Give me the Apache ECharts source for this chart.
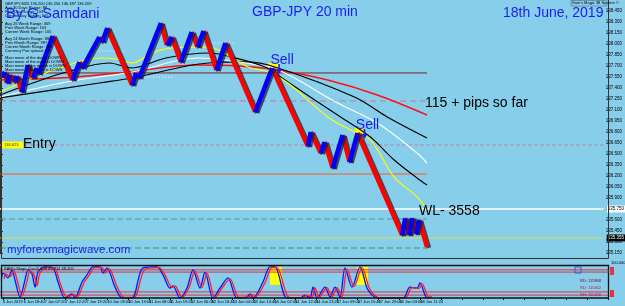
<!DOCTYPE html>
<html><head><meta charset="utf-8">
<script src="https://cdn.jsdelivr.net/npm/echarts@6/dist/echarts.min.js"></script>
<style>html,body{margin:0;padding:0;background:#87CEEB;}#c{width:625px;height:306px;}</style>
</head><body><div id="c"></div>
<script>
// ---- price path (renko turning points): bar position, price
const priceX = [2,5,7,10,15,17,22,28,33,37,39,53,73,80,83,100,103,108,133,137,140,162,168,173,182,193,199,205,218,227,257,274,310,313,323,327,335,345,352,360,405,408,412,415,419,422,430];
const priceY = [137.550,137.618,137.468,137.577,137.482,137.564,137.345,137.714,137.536,137.673,137.591,138.109,137.509,137.755,137.673,138.095,138.027,138.218,137.441,137.605,137.536,138.286,137.986,138.095,137.755,138.164,137.959,138.177,137.645,138.014,137.073,137.673,136.609,136.800,136.514,136.664,136.309,136.759,136.391,136.786,135.395,135.627,135.395,135.627,135.409,135.600,135.232];

// ---- moving averages
const maRed = [[0,137.509],[60,137.536],[120,137.605],[200,137.714],[240,137.700],[280,137.645],[330,137.509],[380,137.305],[430,137.032]];
const maBlackSlow = [[0,137.264],[100,137.468],[133,137.536],[210,137.741],[250,137.755],[280,137.673],[357,137.277],[390,137.005],[430,136.718]];
const maWhite = [[0,137.277],[67,137.482],[133,137.618],[200,137.809],[240,137.755],[280,137.645],[340,137.195],[380,136.923],[420,136.514],[430,136.377]];
const maBlackFast = [[0,137.305],[33,137.468],[67,137.618],[110,137.741],[133,137.673],[167,137.809],[210,137.877],[233,137.823],[267,137.686],[287,137.509],[317,137.236],[343,137.005],[373,136.732],[397,136.418],[420,136.173],[430,136.077]];
const maYellow = [[0,137.345],[33,137.536],[60,137.673],[100,137.809],[117,137.795],[133,137.741],[153,137.877],[173,137.945],[210,137.959],[220,137.918],[250,137.686],[270,137.618],[290,137.468],[330,137.005],[353,136.827],[373,136.691],[397,136.186],[420,135.914],[430,135.736]];

// ---- horizontal levels
const levelPrice = [137.605, 137.223, 136.623, 136.227, 135.614, 135.218];
const levelEnd   = [430, 430, 608, 430, 430, 430];
const dottedPrice = [137.905, 137.550, 138.014];
const dottedFrom  = [97, 133, 210];
const dottedTo    = [125, 175, 237];
const whiteLevel = 135.750;
const limeLevel = 135.355;
const entryPrice = 136.623;

// ---- signals
const sellX = [274, 360];
const sellPrice = [137.673, 136.786];
const signalBoxX = [[270, 282], [357, 366]];
const signalBoxP = [[137.741, 137.618], [136.855, 136.691]];

// ---- oscillator
const oscBlue = [[2,66],[3,78],[8,63],[12,88],[15,56],[20,3],[25,56],[28,88],[32,75],[35,34],[38,81],[45,97],[53,94],[58,50],[65,0],[72,13],[75,0],[82,50],[87,72],[93,97],[100,97],[103,78],[107,94],[115,34],[122,0],[132,0],[143,94],[157,97],[163,72],[170,31],[173,38],[180,0],[187,31],[193,88],[200,31],[205,81],[213,0],[220,31],[228,63],[237,0],[247,3],[250,13],[253,0],[263,50],[270,97],[275,97],[287,0],[300,0],[305,9],[310,0],[313,34],[317,0],[325,34],[330,3],[335,34],[340,3],[345,94],[352,34],[360,97],[367,31],[372,9],[378,0],[403,0],[410,34],[417,31],[420,47],[425,9],[427,0],[430,3]];
const oscRed = [[4,60],[6,75],[10,66],[14,85],[17,58],[22,6],[27,52],[30,85],[34,73],[37,38],[40,78],[47,95],[55,92],[60,48],[67,2],[74,11],[77,2],[84,48],[89,70],[95,95],[102,95],[105,78],[109,92],[117,36],[124,2],[134,2],[145,90],[159,95],[165,72],[172,33],[175,38],[182,2],[189,33],[195,85],[202,33],[207,78],[215,2],[222,31],[230,60],[239,2],[249,4],[252,11],[255,2],[265,48],[272,95],[277,95],[289,2],[302,0],[307,8],[312,1],[315,32],[319,2],[327,32],[332,4],[337,32],[342,4],[347,90],[354,36],[362,95],[369,33],[374,10],[380,0],[405,0],[412,32],[419,30],[422,45],[427,10],[429,2],[432,4]];
const oscLevels = [88, 81, 19, 9];
const oscBoxX = [[270, 282], [357, 368]];
const oscBoxV = [97, 41];

const timeLabels = ["6 Jun 2019","6 Jun 18:40","7 Jun 07:20","7 Jun 12:20","7 Jun 19:20","10 Jun 09:00","10 Jun 13:00","11 Jun 08:00","11 Jun 19:20","12 Jun 06:00","12 Jun 16:40","13 Jun 04:00","13 Jun 14:40","14 Jun 02:00","14 Jun 12:40","14 Jun 23:20","17 Jun 09:00","17 Jun 15:40","17 Jun 23:00","18 Jun 03:00","18 Jun 11:24","","","","","","","","",""];

const infoLines = ["GBPJPY,M20 136.200 136.250 136.187 136.209","Avg 30 Days Range: 88","Prev Day Range: 103","Current Day Range: 105","Avg 26 Week Range: 369","Prev Week Range: 163","Current Week Range: 105","Avg 24 Month Range: 883","Prev Month Range: 987","Current Month Range: 294","Currency Pair spread: 3.2","Main move of the day is DOWN","Main move of the week is DOWN","Main move of the month is DOWN","Main move of the year is DOWN"];
const infoY = [4,8,12,16,24,28,32,39,43,47,51,58,62,66,70];

// ---------------------------------------------------------------
const FONT = '"Liberation Sans", Arial, sans-serif';
const BLUE = '#1c1cf0';
const chart = echarts.init(document.getElementById('c'), null, {renderer:'canvas', width:625, height:306});

const upData = [], downData = [];
for (let i = 0; i < priceX.length - 1; i++) {
  const a = [priceX[i], priceY[i]], b = [priceX[i+1], priceY[i+1]];
  const t = priceY[i+1] > priceY[i] ? upData : downData;
  t.push(a, b, [priceX[i+1], '-']);
}

const levelStyles = [
  {color:'#7a2020', type:'solid', width:1},
  {color:'#c87890', type:[6,4], width:1},
  {color:'#b88aa8', type:[4,2], width:1.2},
  {color:'#ff5a1e', type:'solid', width:1},
  {color:'#40a0a0', type:[6,3], width:1},
  {color:'#30a060', type:[6,3], width:1}
];

const series = [];
levelPrice.forEach((p, i) => {
  const s = {type:'line', xAxisIndex:0, yAxisIndex:0, symbol:'none', silent:true, z:2,
    data:[[0,p],[levelEnd[i],p]], lineStyle:levelStyles[i]};
  if (i === 0) {
    s.markArea = {silent:true, itemStyle:{color:'#ffff00'},
      data: signalBoxX.map((bx, k) => [{coord:[bx[0], signalBoxP[k][0]]},{coord:[bx[1], signalBoxP[k][1]]}])};
  }
  series.push(s);
});
dottedPrice.forEach((p, i) => series.push({type:'line', symbol:'none', silent:true, z:2,
  data:[[dottedFrom[i],p],[dottedTo[i],p]], lineStyle:{color:'#f0f8ff', type:[1,2], width:1}}));

[[maRed,'#ff1010',1.4],[maBlackSlow,'#000',1.2],[maWhite,'#ffffff',1.1],[maBlackFast,'#000',1.1],[maYellow,'#ffff00',1.1]].forEach(m => {
  series.push({type:'line', symbol:'none', silent:true, smooth:0.35, z:3, data:m[0], lineStyle:{color:m[1], width:m[2]}});
});

series.push({type:'line', symbol:'none', silent:true, z:3, data:[[0,whiteLevel],[608,whiteLevel]],
  lineStyle:{color:'#ffffff', width:1.5},
  endLabel:{show:true, formatter:whiteLevel.toFixed(3), distance:3, fontSize:4.5, color:'#000', backgroundColor:'#fff', padding:[1,1], fontFamily:FONT}});
series.push({type:'line', symbol:'none', silent:true, z:3, data:[[0,limeLevel],[608,limeLevel]],
  lineStyle:{color:'#d8e050', width:1},
  endLabel:{show:true, formatter:limeLevel.toFixed(3), distance:3, fontSize:4.5, color:'#fff', backgroundColor:'#000', padding:[1,1], fontFamily:FONT}});

const brick = {width:4.5, shadowColor:'rgba(30,30,40,0.75)', shadowOffsetX:2, shadowOffsetY:1, shadowBlur:0};
series.push({type:'line', symbol:'none', silent:true, z:5, connectNulls:false, data:downData,
  lineStyle:Object.assign({color:'#ff0000'}, brick)});
series.push({type:'line', symbol:'none', silent:true, z:5, connectNulls:false, data:upData,
  lineStyle:Object.assign({color:'#0000ff'}, brick)});

// oscillator
oscLevels.forEach((v, i) => {
  const s = {type:'line', xAxisIndex:1, yAxisIndex:1, symbol:'none', silent:true, z:1,
    data:[[0,v],[608,v]], lineStyle:{color:'#e03040', width:1}};
  if (i === 0) {
    s.markArea = {silent:true, itemStyle:{color:'#ffff00'},
      data: oscBoxX.map(bx => [{coord:[bx[0], oscBoxV[0]]},{coord:[bx[1], oscBoxV[1]]}])};
  }
  series.push(s);
});
series.push({type:'line', xAxisIndex:1, yAxisIndex:1, symbol:'none', silent:true, smooth:0.3, z:3, data:oscBlue, lineStyle:{color:'#1010ff', width:1.3}});
series.push({type:'line', xAxisIndex:1, yAxisIndex:1, symbol:'none', silent:true, smooth:0.3, z:3, data:oscRed, lineStyle:{color:'#ff2020', width:1.3}});

chart.setOption({
  backgroundColor:'#87CEEB',
  animation:false,
  grid:[
    {left:0, right:17, top:0, height:253},
    {left:0, right:17, top:266, height:32},
    {left:2, right:17, top:266, height:32}
  ],
  xAxis:[
    {type:'value', gridIndex:0, min:0, max:608, show:false},
    {type:'value', gridIndex:1, min:0, max:608, show:false},
    {type:'category', gridIndex:2, data:timeLabels, boundaryGap:false,
      axisLine:{show:false}, axisTick:{show:true, length:2, lineStyle:{color:'#000'}},
      axisLabel:{fontSize:4, margin:2, align:'left', color:'#000', interval:0, fontFamily:FONT},
      splitLine:{show:false}}
  ],
  yAxis:[
    {type:'value', gridIndex:0, position:'right', min:135.15, max:138.60, interval:0.15,
      axisLine:{show:true, lineStyle:{color:'#333'}}, axisTick:{show:true, length:3, lineStyle:{color:'#333'}},
      axisLabel:{fontSize:4.5, margin:2, color:'#000', showMaxLabel:false, fontFamily:FONT, formatter:v => v.toFixed(3)},
      splitLine:{show:false}},
    {type:'value', gridIndex:1, min:0, max:100, show:false},
    {type:'value', gridIndex:2, min:0, max:1, show:false}
  ],
  series: series
});

// ---- texts and decorations
const g = [];
g.push({type:'rect', silent:true, z:50, shape:{x:1.5, y:-1, width:607, height:259.5}, style:{fill:'none', stroke:'#333', lineWidth:1}});
g.push({type:'rect', silent:true, z:50, shape:{x:1.5, y:265.5, width:607, height:32.5}, style:{fill:'none', stroke:'#111', lineWidth:1.3}});
infoLines.forEach((t, i) => g.push({type:'text', silent:true, z:60, x:5, y:infoY[i],
  style:{text:t, font:'4px ' + FONT, fill:'#000', align:'left', verticalAlign:'middle'}}));
const txt = (t, x, y, size, color, align) => g.push({type:'text', silent:true, z:70, x:x, y:y,
  style:{text:t, font:size + 'px ' + FONT, fill:color, align:align || 'left', verticalAlign:'middle'}});
txt('By G.Samdani', 6, 14, 14.5, BLUE);
txt('GBP-JPY 20 min', 305, 12, 14, BLUE, 'center');
txt('18th June, 2019', 503, 13, 14, BLUE);
txt('115 + pips so far', 425, 103, 14, '#000');
txt('Entry', 23, 144, 14, '#000');
txt('WL- 3558', 419, 211, 14, '#000');
txt('myforexmagicwave.com', 7, 250, 11.5, BLUE);

// top-right system label
g.push({type:'rect', silent:true, z:60, shape:{x:571, y:0.5, width:36, height:5.5}, style:{fill:'none', stroke:'#556', lineWidth:0.5}});
txt("Sam's Magic 38 System \u00a9", 572, 3.2, 4, '#000');

// entry tag
const ep = chart.convertToPixel({gridIndex:0}, [2, entryPrice]);
g.push({type:'rect', silent:true, z:65, shape:{x:2, y:ep[1]-3.5, width:21, height:7}, style:{fill:'#ffff00'}});
txt(entryPrice.toFixed(3), 4, ep[1], 4, '#333');

// sell signals
sellX.forEach((x, i) => {
  const p = chart.convertToPixel({gridIndex:0}, [x, sellPrice[i]]);
  txt('Sell', p[0] + 10, p[1] - 8, 14, BLUE, 'center');
  g.push({type:'polyline', silent:true, z:70, shape:{points:[[p[0]+7, p[1]-4],[p[0]+7, p[1]+3]]}, style:{stroke:BLUE, lineWidth:1.6}});
  g.push({type:'polygon', silent:true, z:70, shape:{points:[[p[0]+4, p[1]+1],[p[0]+10, p[1]+1],[p[0]+7, p[1]+6]]}, style:{fill:BLUE}});
});

// oscillator annotations
txt("SAM's Magic Osc(5,3,3) 45.714 48.205", 4, 269, 4, '#000');
g.push({type:'rect', silent:true, z:60, shape:{x:575, y:267, width:6, height:6}, style:{fill:'none', stroke:'#3060c0', lineWidth:1}});
txt('RD: 105.842 | 15.2', 583, 272, 3.5, '#8090a0');
txt('RD: 115868', 580, 281, 4, '#800020');
txt('RD: 115462', 580, 288, 4, '#d01040');
txt('RH: 115458', 580, 295, 4, '#d01040');
g.push({type:'rect', silent:true, z:60, shape:{x:610, y:267, width:4, height:8}, style:{fill:'#e83040'}});
g.push({type:'rect', silent:true, z:60, shape:{x:610, y:290, width:4, height:7}, style:{fill:'#e83040'}});
txt('100.000', 611, 263, 4, '#000');

chart.setOption({graphic:g});
</script>
</body></html>
